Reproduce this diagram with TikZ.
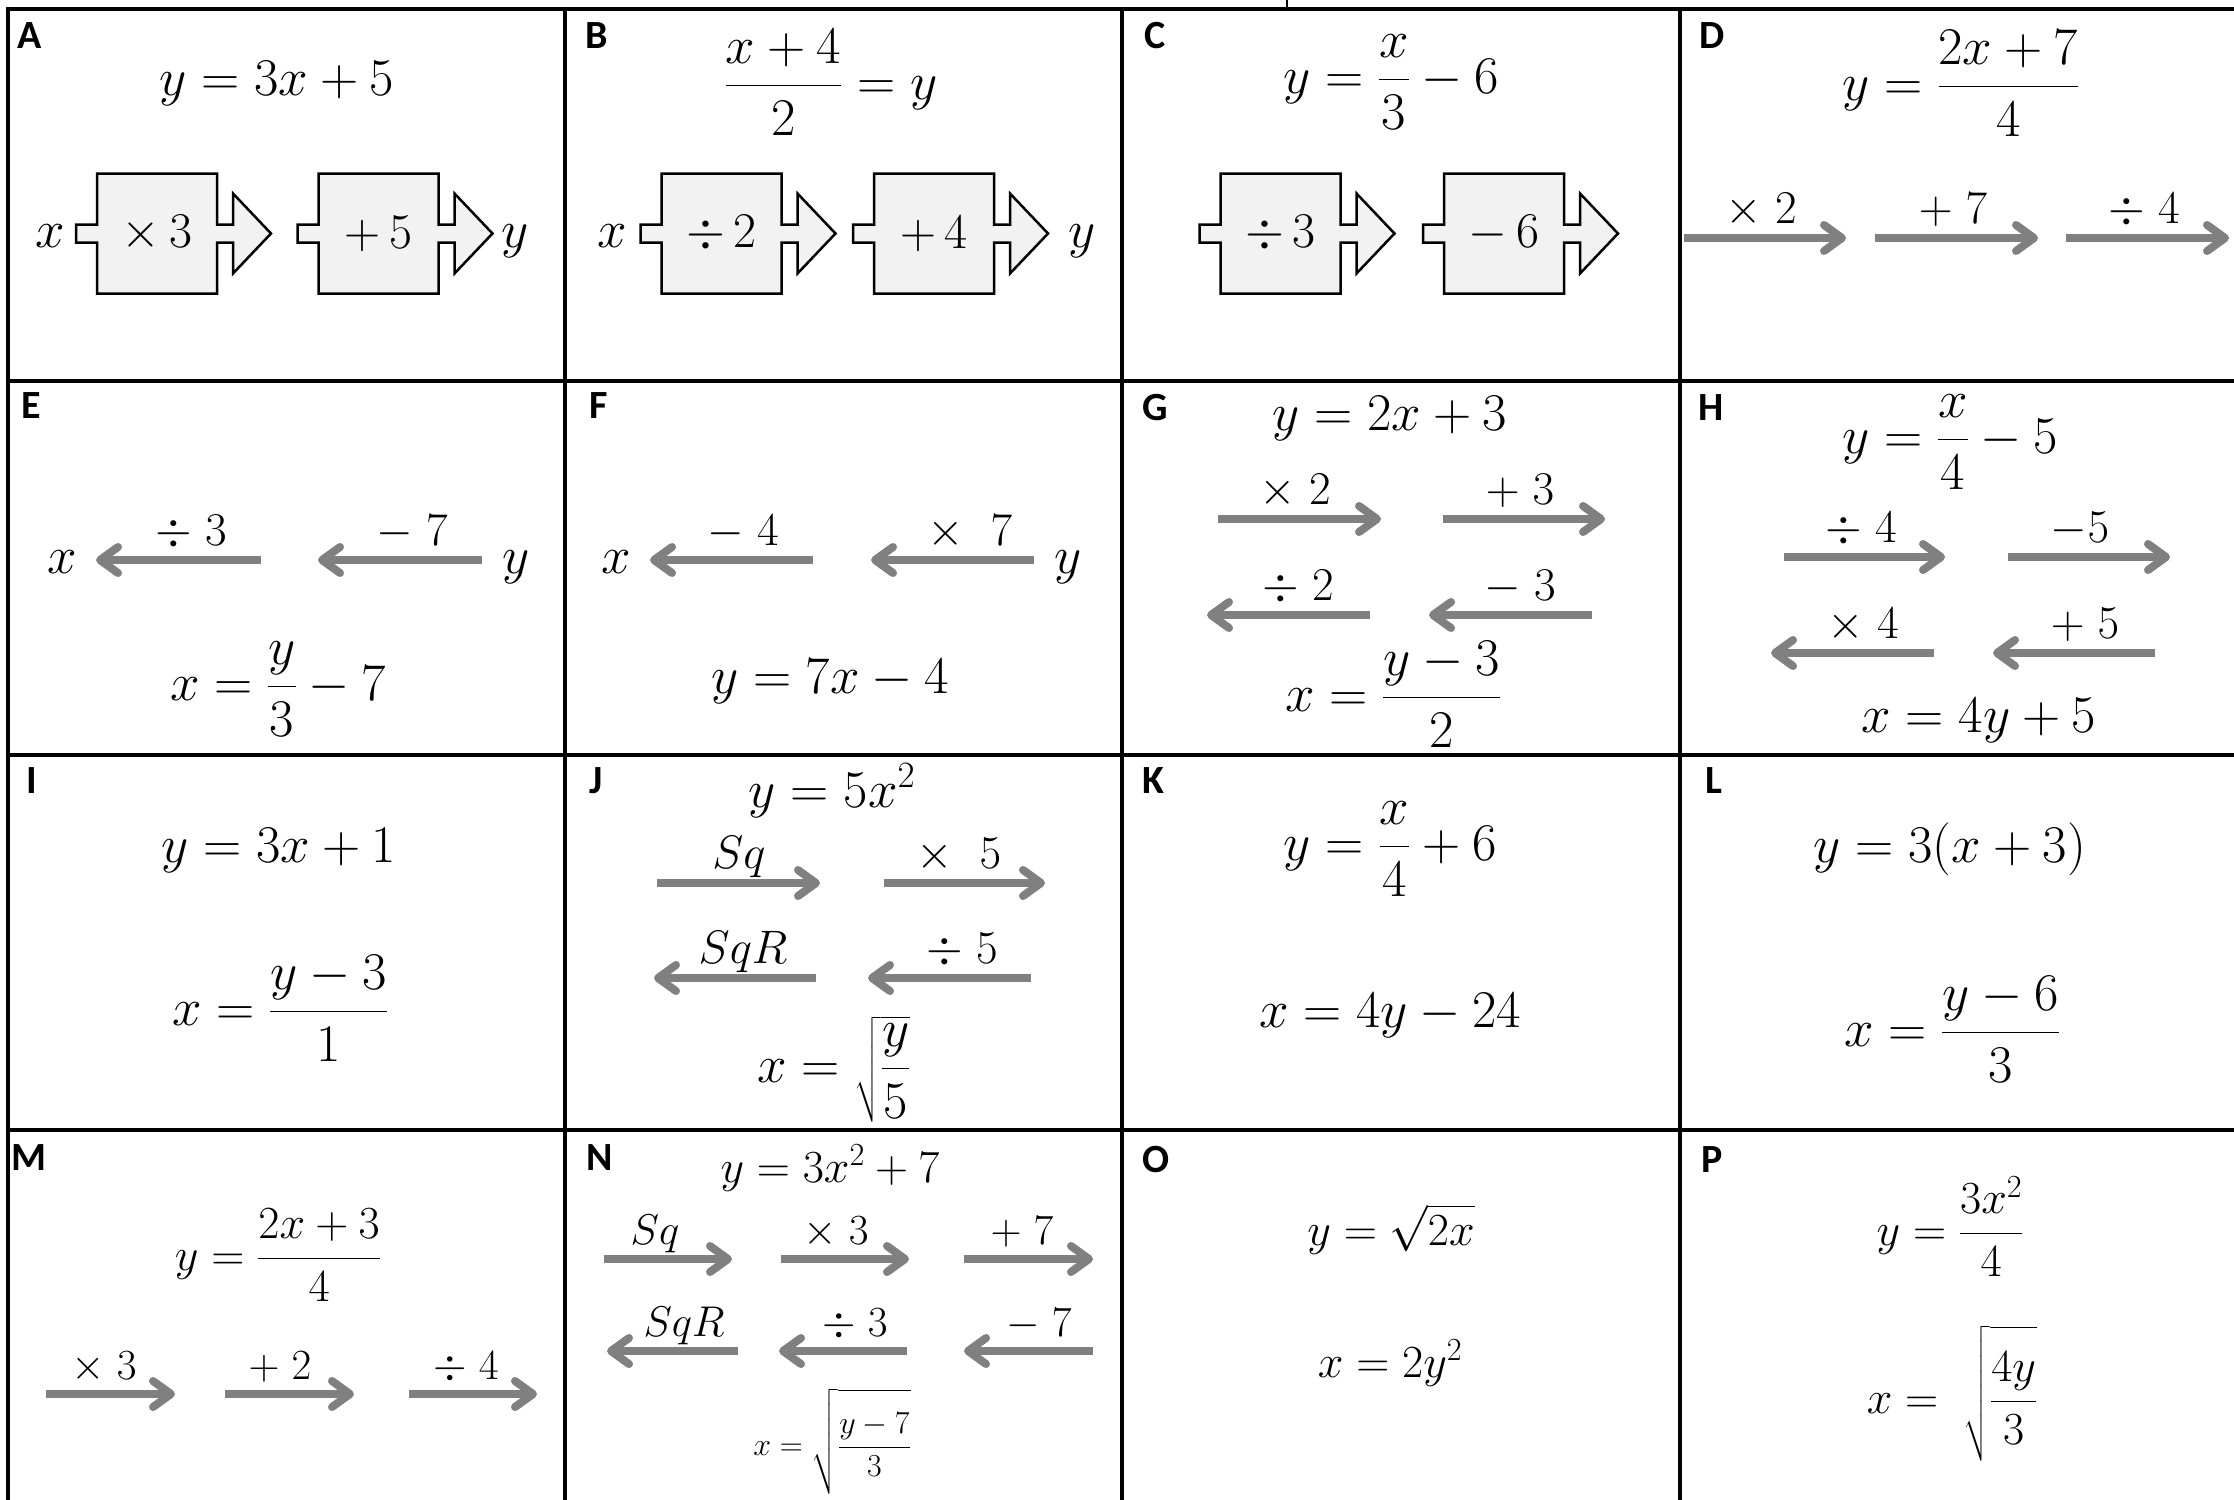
\RequirePackage{fix-cm}
\documentclass[tikz,border=0pt]{standalone}
\usepackage{amsmath}
\usepackage{fontspec}
\newfontfamily\labfont{Carlito}
\usetikzlibrary{arrows.meta}
\definecolor{boxfill}{HTML}{F2F2F2}
\definecolor{arrgray}{HTML}{808080}
\tikzset{
  gridline/.style={line width=3.5pt, black, line cap=rect},
  puz/.style={draw=black, line width=2.5pt, fill=boxfill, line join=miter},
  puzlab/.style={inner sep=0pt, font=\fontsize{50}{60}\selectfont},
  eq/.style={inner sep=0pt, anchor=base, font=\fontsize{53}{64}\selectfont},
  eqs/.style={inner sep=0pt, anchor=base, font=\fontsize{46}{56}\selectfont},
  eqt/.style={inner sep=0pt, anchor=base, font=\fontsize{32}{40}\selectfont},
  var/.style={inner sep=0pt, anchor=base, font=\fontsize{53}{64}\selectfont},
  cardlab/.style={inner sep=0pt, anchor=base west, font=\fontsize{40}{48}\labfont\bfseries},
  garr/.style={draw=arrgray, line width=8pt, -{Straight Barb[length=18pt,width=26pt,round]}},
  arrlab/.style={inner sep=0pt, anchor=base, font=\fontsize{47}{56}\selectfont},
}
\newcommand{\puzzle}[4]{%
  \begin{scope}[shift={(#2,#3)}]
    \draw[puz] (-60,-60) -- (60,-60) -- (60,-9) -- (76,-9) -- (76,-40) -- (114,0)
      -- (76,40) -- (76,9) -- (60,9) -- (60,60) -- (-60,60) -- (-60,9) -- (-81,9)
      -- (-81,-9) -- (-60,-9) -- cycle;
    \node[puzlab] (#1) at (0,0) {$#4$};
  \end{scope}}
\newcommand{\garrow}[6]{%
  \coordinate (#1t) at (#2,#4);
  \coordinate (#1h) at (#3,#4);
  \draw[garr] (#1t) -- (#1h);
  \node[arrlab] (#1l) at (#5,#4-15) {$#6$};}
\begin{document}
\begin{tikzpicture}[x=1pt,y=-1pt]
\useasboundingbox (0,0) rectangle (2234,1499);
\fill[white] (0,0) rectangle (2234,1499);
% grid
\foreach \yy in {9,381,755,1130} \draw[gridline] (8,\yy) -- (2240,\yy);
\foreach \xx in {8,565,1122,1680} \draw[gridline] (\xx,9) -- (\xx,1505);
\draw[line width=2.5pt] (1287,0) -- (1287,9);

% Card A
\node[cardlab] (labA) at (17,48) {A};
\node[eq] (eqA) at (277,95) {$y = 3x + 5$};
\node[var] (xA) at (50,247) {$x$};
\puzzle{A1}{157}{233.5}{\times\,3}
\puzzle{A2}{378.5}{233.5}{+\,5}
\node[var] (yA) at (515,247) {$y$};

% Card B
\node[cardlab] (labB) at (585,48) {B};
\node[eq] (eqB) at (831,99) {$\dfrac{x+4}{2} = y$};
\node[var] (xB) at (612,247) {$x$};
\puzzle{B1}{721.5}{233.5}{\div\,2}
\puzzle{B2}{934}{233.5}{+\,4}
\node[var] (yB) at (1082,247) {$y$};

% Card C
\node[cardlab] (labC) at (1144,48) {C};
\node[eq] (eqC) at (1391,93) {$y = \dfrac{x}{3} - 6$};
\puzzle{C1}{1280.5}{233.5}{\div\,3}
\puzzle{C2}{1504}{233.5}{-\,6}

% Card D
\node[cardlab] (labD) at (1699,48) {D};
\node[eq] (eqD) at (1961,100) {$y = \dfrac{2x+7}{4}$};
\garrow{D1}{1684}{1846}{238}{1761}{\times\;2}
\garrow{D2}{1875}{2038}{238}{1953}{+\;7}
\garrow{D3}{2066}{2229}{238}{2144}{\div\;4}

% Card E
\node[cardlab] (labE) at (21,418) {E};
\node[var] (xE) at (62,573) {$x$};
\garrow{E1}{261}{96}{560}{191}{\div\;3}
\garrow{E2}{482}{318}{560}{412}{-\;7}
\node[var] (yE) at (516,573) {$y$};
\node[eq] (eqE) at (278,700) {$x = \dfrac{y}{3} - 7$};

% Card F
\node[cardlab] (labF) at (589,418) {F};
\node[var] (xF) at (616,573) {$x$};
\garrow{F1}{813}{650}{560}{743}{-\;4}
\garrow{F2}{1034}{871}{560}{970}{\times\;\;7}
\node[var] (yF) at (1068,573) {$y$};
\node[eq] (eqF) at (830,693) {$y = 7x - 4$};

% Card G
\node[cardlab] (labG) at (1142,420) {G};
\node[eq] (eqG) at (1390,430) {$y = 2x + 3$};
\garrow{G1}{1218}{1381}{519}{1295}{\times\;2}
\garrow{G2}{1443}{1605}{519}{1520}{+\;3}
\garrow{G3}{1370}{1207}{615}{1298}{\div\;2}
\garrow{G4}{1592}{1429}{615}{1520}{-\;3}
\node[eq] (eqG2) at (1393,711) {$x = \dfrac{y-3}{2}$};

% Card H
\node[cardlab] (labH) at (1698,420) {H};
\node[eq] (eqH) at (1950,453) {$y = \dfrac{x}{4} - 5$};
\garrow{H1}{1784}{1945}{557}{1861}{\div\;4}
\garrow{H2}{2008}{2170}{557}{2080}{-5}
\garrow{H3}{1934}{1771}{653}{1863}{\times\;4}
\garrow{H4}{2155}{1993}{653}{2085}{+\;5}
\node[eq] (eqH2) at (1979,732) {$x = 4y + 5$};

% Card I
\node[cardlab] (labI) at (26,793) {I};
\node[eq] (eqI) at (279,862) {$y = 3x + 1$};
\node[eq] (eqI2) at (280,1025) {$x = \dfrac{y-3}{1}$};

% Card J
\node[cardlab] (labJ) at (589,793) {J};
\node[eq] (eqJ) at (832,807) {$y = 5x^2$};
\garrow{J1}{657}{820}{883}{739}{Sq}
\garrow{J2}{884}{1045}{883}{959}{\times\;\;5}
\garrow{J3}{816}{654}{978}{743}{SqR}
\garrow{J4}{1031}{868}{978}{962}{\div\;5}
\node[eq] (eqJ2) at (834,1082) {$x = \sqrt{\dfrac{y}{5}}$};

% Card K
\node[cardlab] (labK) at (1142,793) {K};
\node[eq] (eqK) at (1390,860) {$y = \dfrac{x}{4} + 6$};
\node[eq] (eqK2) at (1390,1027) {$x = 4y - 24$};

% Card L
\node[cardlab] (labL) at (1705,793) {L};
\node[eq] (eqL) at (1950,862) {$y = 3(x + 3)$};
\node[eq] (eqL2) at (1952,1046) {$x = \dfrac{y-6}{3}$};

% Row 4
\begin{scope}[arrlab/.append style={font=\fontsize{43}{52}\selectfont}]
% Card M
\node[cardlab] (labM) at (11,1170) {M};
\node[eqs] (eqM) at (278,1270) {$y = \dfrac{2x+3}{4}$};
\garrow{M1}{46}{175}{1394}{104}{\times\;3}
\garrow{M2}{225}{354}{1394}{280}{+\;2}
\garrow{M3}{409}{537}{1394}{466}{\div\;4}

% Card N
\node[cardlab] (labN) at (586,1170) {N};
\node[eqs] (eqN) at (830,1182) {$y = 3x^2 + 7$};
\garrow{N1}{604}{732}{1259}{655}{Sq}
\garrow{N2}{781}{909}{1259}{836}{\times\;3}
\garrow{N3}{964}{1093}{1259}{1022}{+\;7}
\garrow{N4}{738}{607}{1351}{684}{SqR}
\garrow{N5}{907}{779}{1351}{855}{\div\;3}
\garrow{N6}{1093}{964}{1351}{1039}{-\;7}
\node[eqt] (eqN2) at (832,1455) {$x = \sqrt{\rule[-36pt]{0pt}{96pt}\dfrac{y-7}{3}}$};

% Card O
\node[cardlab] (labO) at (1142,1172) {O};
\node[eqs] (eqO) at (1391,1245) {$y = \sqrt{2x}$};
\node[eqs] (eqO2) at (1390,1377) {$x = 2y^2$};

% Card P
\node[cardlab] (labP) at (1701,1172) {P};
\node[eqs] (eqP) at (1950,1245) {$y = \dfrac{3x^2}{4}$};
\node[eqs] (eqP2) at (1952,1413) {$x = \;\sqrt{\rule[-46pt]{0pt}{128pt}\dfrac{4y}{3}}$};
\end{scope}
\end{tikzpicture}
\end{document}
